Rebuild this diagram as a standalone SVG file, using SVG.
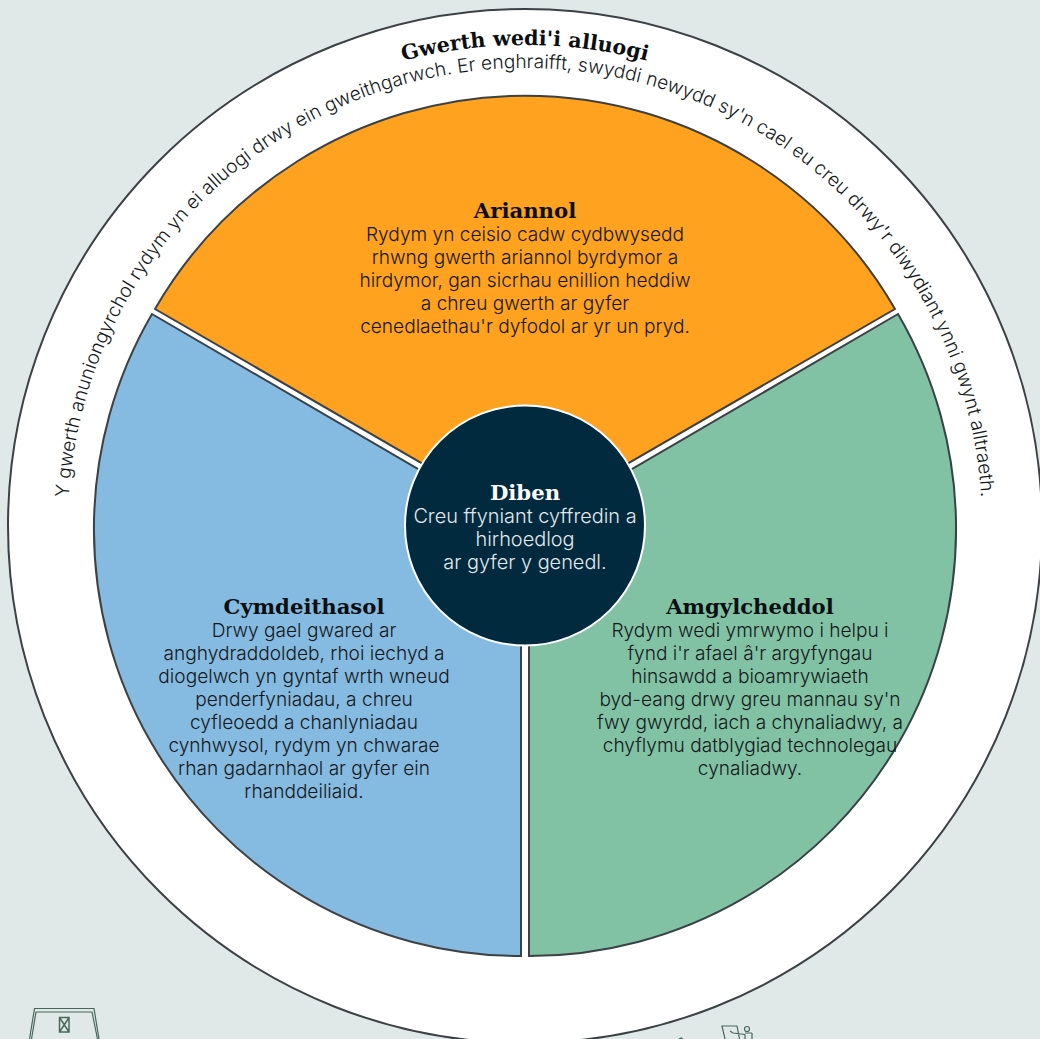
<svg xmlns="http://www.w3.org/2000/svg" width="1040" height="1039" viewBox="0 0 1040 1039">
<defs>
<style>
.w{stroke:#3b4144;stroke-width:2;stroke-linejoin:miter}
.h{font-family:"DejaVu Serif","Liberation Serif",serif;font-weight:700;font-size:21.2px;text-anchor:middle;fill:#0c0f11}
.b{font-family:Inter,"Liberation Sans",sans-serif;font-weight:300;font-size:19.1px;text-anchor:middle;fill:#14181a}
.ic{fill:none;stroke:#47685a;stroke-width:1.2}
</style>
<path id="arcBody" d="M68 525A457 457 0 0 1 982 525"/>
<path id="arcHead" d="M45 525A480 480 0 0 1 1005 525"/>
</defs>
<rect width="1040" height="1039" fill="#e1e9e8"/>
<g id="ring">
<circle cx="525" cy="526" r="517" fill="#fff" class="w"/>
<text font-family="Inter,'Liberation Sans',sans-serif" font-weight="300" font-size="19.1px" letter-spacing="0.04" fill="#14181a" text-anchor="middle"><textPath href="#arcBody" startOffset="50%">Y gwerth anuniongyrchol rydym yn ei alluogi drwy ein gweithgarwch. Er enghraifft, swyddi newydd sy'n cael eu creu drwy'r diwydiant ynni gwynt alltraeth.</textPath></text>
<text class="h" style="font-size:20.7px"><textPath href="#arcHead" startOffset="50%">Gwerth wedi'i alluogi</textPath></text>
</g>
<g id="ariannol">
<path class="w" fill="#ffa220" d="M155 309A427.500 427.500 0 0 1 895 309L525 523Z"/>
<text class="h" x="525" y="217.500">Ariannol</text>
<text class="b"><tspan x="525" y="240.700">Rydym yn ceisio cadw cydbwysedd</tspan><tspan x="525" y="263.700">rhwng gwerth ariannol byrdymor a</tspan><tspan x="525" y="286.700">hirdymor, gan sicrhau enillion heddiw</tspan><tspan x="525" y="309.700">a chreu gwerth ar gyfer</tspan><tspan x="525" y="332.700">cenedlaethau'r dyfodol ar yr un pryd.</tspan></text>
</g>
<g id="cymdeithasol">
<path class="w" fill="#85bae1" d="M152 314L521 529V956A427 427 0 0 1 152 314Z"/>
<text class="h" x="304" y="613.500">Cymdeithasol</text>
<text class="b"><tspan x="304" y="636.700">Drwy gael gwared ar</tspan><tspan x="304" y="659.700">anghydraddoldeb, rhoi iechyd a</tspan><tspan x="304" y="682.700">diogelwch yn gyntaf wrth wneud</tspan><tspan x="304" y="705.700">penderfyniadau, a chreu</tspan><tspan x="304" y="728.700">cyfleoedd a chanlyniadau</tspan><tspan x="304" y="751.700">cynhwysol, rydym yn chwarae</tspan><tspan x="304" y="774.700">rhan gadarnhaol ar gyfer ein</tspan><tspan x="304" y="797.700">rhanddeiliaid.</tspan></text>
</g>
<g id="amgylcheddol">
<path class="w" fill="#82c2a4" d="M898 314L529 529V956A427 427 0 0 0 898 314Z"/>
<text class="h" x="750" y="613.500">Amgylcheddol</text>
<text class="b"><tspan x="750" y="636.700">Rydym wedi ymrwymo i helpu i</tspan><tspan x="750" y="659.700">fynd i'r afael â'r argyfyngau</tspan><tspan x="750" y="682.700">hinsawdd a bioamrywiaeth</tspan><tspan x="750" y="705.700">byd-eang drwy greu mannau sy'n</tspan><tspan x="750" y="728.700">fwy gwyrdd, iach a chynaliadwy, a</tspan><tspan x="750" y="751.700">chyflymu datblygiad technolegau</tspan><tspan x="750" y="774.700">cynaliadwy.</tspan></text>
</g>
<g id="diben">
<circle cx="525" cy="525.500" r="120" fill="#012a3f" stroke="#fff" stroke-width="2"/>
<text class="h" x="525" y="500" style="fill:#fff">Diben</text>
<text class="b" style="fill:#e3e9ea;font-size:19.9px"><tspan x="525" y="522.500">Creu ffyniant cyffredin a</tspan><tspan x="525" y="545.500">hirhoedlog</tspan><tspan x="525" y="568.500">ar gyfer y genedl.</tspan></text>
</g>
<g id="icons">
<path class="ic" d="M29.500 1039L34.500 1008.500H94L99 1039M31.500 1039L36 1012H92L97.500 1039"/>
<path class="ic" style="stroke-width:1.500" d="M59.500 1017.500H69V1032H59.500ZM59.500 1017.500L69 1032M69 1017.500L59.500 1032"/>
<path class="ic" d="M725 1039L722 1026H737L739.500 1039M730 1031L733 1033L745 1034.500M745 1034.500V1039M752 1033V1039M745 1033H752"/>
<circle class="ic" cx="747" cy="1029" r="2.500"/>
<path class="ic" d="M679 1039L681 1038L683 1039"/>
</g>
</svg>
